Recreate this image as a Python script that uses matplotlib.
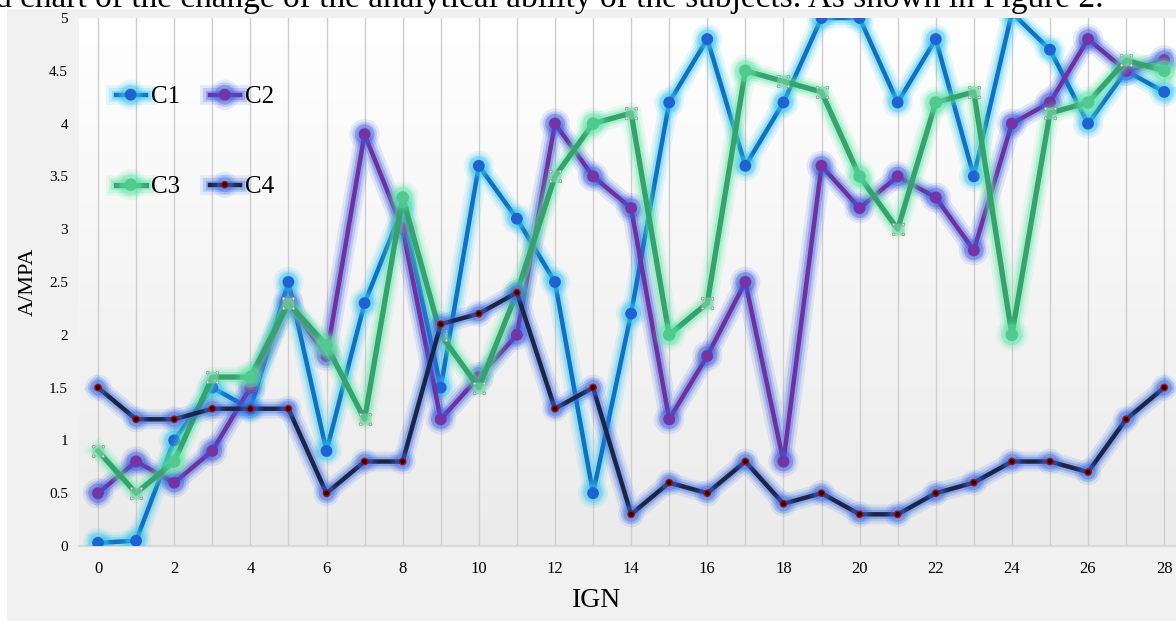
import numpy as np
import matplotlib
matplotlib.use("Agg")
import matplotlib.pyplot as plt
import matplotlib.patheffects as pe
from matplotlib.path import Path
from matplotlib.patches import Rectangle
from matplotlib.colors import LinearSegmentedColormap

# data
ign = list(range(29))
c1 = [0.03, 0.05, 1.0, 1.5, 1.3, 2.5, 0.9, 2.3, 3.2, 1.5, 3.6, 3.1, 2.5, 0.5, 2.2,
      4.2, 4.8, 3.6, 4.2, 5.0, 5.0, 4.2, 4.8, 3.5, 5.05, 4.7, 4.0, 4.5, 4.3]
c2 = [0.5, 0.8, 0.6, 0.9, 1.5, 2.3, 1.8, 3.9, 3.0, 1.2, 1.6, 2.0, 4.0, 3.5, 3.2,
      1.2, 1.8, 2.5, 0.8, 3.6, 3.2, 3.5, 3.3, 2.8, 4.0, 4.2, 4.8, 4.5, 4.6]
c3 = [0.9, 0.5, 0.8, 1.6, 1.6, 2.3, 1.9, 1.2, 3.3, 2.0, 1.5, 2.4, 3.5, 4.0, 4.1,
      2.0, 2.3, 4.5, 4.4, 4.3, 3.5, 3.0, 4.2, 4.3, 2.0, 4.1, 4.2, 4.6, 4.5]
c4 = [1.5, 1.2, 1.2, 1.3, 1.3, 1.3, 0.5, 0.8, 0.8, 2.1, 2.2, 2.4, 1.3, 1.5, 0.3,
      0.6, 0.5, 0.8, 0.4, 0.5, 0.3, 0.3, 0.5, 0.6, 0.8, 0.8, 0.7, 1.2, 1.5]
# points of C3 drawn with the dotted "selected" marker
c3_dotted = [0, 1, 3, 5, 7, 9, 10, 12, 14, 16, 18, 19, 21, 23, 25, 27]

SERIF = ["Liberation Serif", "DejaVu Serif"]
plt.rcParams["font.family"] = SERIF

fig = plt.figure(figsize=(11.76, 6.21), dpi=100, facecolor="white")
fig.patches.append(Rectangle((7 / 1176, 0), 1, 1 - 9 / 621, transform=fig.transFigure,
                             facecolor="#f1f1f1", edgecolor="none", zorder=-10))
# caption line from the page above, cut by the top edge as in the source
fig.text(-0.004, 1 - 7 / 621, "d chart of the change of the analytical ability of the subjects. As shown in Figure 2.",
         fontsize=24, va="baseline", ha="left", color="black")

ax = fig.add_axes([79 / 1176, 75 / 621, 1 - 79 / 1176, 528 / 621])

# white-to-grey gradient plot area
grad = np.linspace(1, 0, 256).reshape(-1, 1)
cmap = LinearSegmentedColormap.from_list("bg", ["#ebebeb", "#ffffff"])
ax.imshow(grad, extent=[0, 1, 0, 1], transform=ax.transAxes, aspect="auto",
          cmap=cmap, interpolation="bicubic", zorder=0)


def glow(color, lw):
    return [pe.Stroke(linewidth=lw + 11, foreground=color, alpha=0.12),
            pe.Stroke(linewidth=lw + 7, foreground=color, alpha=0.2),
            pe.Stroke(linewidth=lw + 3.5, foreground=color, alpha=0.35),
            pe.Normal()]


lw = 3.2
h1, = ax.plot(ign, c1, color="#0e72c4", lw=lw, marker="o", ms=7.5, mfc="#1f62d4", mec="#1f62d4",
              label="C1", zorder=3, path_effects=glow("#3cc8f0", lw))
h2, = ax.plot(ign, c2, color="#7030a0", lw=lw, marker="o", ms=7.5, mfc="#7434a6", mec="#7434a6",
              label="C2", zorder=4, path_effects=glow("#3a5de0", lw))
round_idx = [i for i in ign if i not in c3_dotted]
h3, = ax.plot(ign, c3, color="#36a26e", lw=lw + 0.6, marker="o", ms=8, mfc="#52c98e", mec="#52c98e",
              markevery=round_idx, label="C3", zorder=5, path_effects=glow("#5fe6a8", lw + 0.6))

# four white dots at the corners of a square
dots = Path.make_compound_path(*[Path.circle((dx, dy), 0.28) for dx in (-1, 1) for dy in (-1, 1)])
ax.plot([ign[i] for i in c3_dotted], [c3[i] for i in c3_dotted], ls="none", marker="s", ms=9,
        mfc="#7fd8aa", mec="none", alpha=0.6, zorder=5.1)
ax.plot([ign[i] for i in c3_dotted], [c3[i] for i in c3_dotted], ls="none", marker=dots, ms=9,
        mfc="white", mec="#8a8a8a", mew=0.5, zorder=5.2)

h4, = ax.plot(ign, c4, color="#1c2545", lw=lw, marker="o", ms=4.5, mfc="#111111", mec="#c00000", mew=1,
              label="C4", zorder=6, path_effects=glow("#3a6ee8", lw))

ax.set_xlim(-0.5, 28.31)
ax.set_ylim(0, 5)
ax.set_xticks(range(0, 29, 2))
ax.set_xticks(range(1, 29, 2), minor=True)
ax.set_yticks(np.arange(0, 5.01, 0.5))
ax.set_yticklabels(["0", "0.5", "1", "1.5", "2", "2.5", "3", "3.5", "4", "4.5", "5"])
ax.grid(axis="x", which="both", color="#cfcfcf", lw=1)
ax.set_axisbelow(True)
ax.tick_params(axis="both", which="both", length=0)
ax.tick_params(axis="x", labelsize=12, pad=11)
ax.tick_params(axis="y", labelsize=11, pad=8)
for s in ["top", "right", "left"]:
    ax.spines[s].set_visible(False)
ax.spines["bottom"].set_color("#d8d8d8")
ax.spines["bottom"].set_linewidth(1.5)

ax.set_xlabel("IGN", fontsize=20, va="center")
ax.xaxis.set_label_coords(0.472, -0.104)
ax.set_ylabel("A/MPA", fontsize=16, va="center")
ax.yaxis.set_label_coords(-0.0465, 0.5)

# column-first fill, so pass (C1, C3) then (C2, C4) to get C1 C2 / C3 C4 rows
ax.legend(handles=[h1, h3, h2, h4], loc="upper left", bbox_to_anchor=(0.022, 0.895), ncol=2,
          frameon=False, fontsize=18, handlelength=1.2, handletextpad=0.2, columnspacing=1.2,
          labelspacing=2.7, borderpad=0)

fig.savefig("out.png", dpi=100, facecolor=fig.get_facecolor())
